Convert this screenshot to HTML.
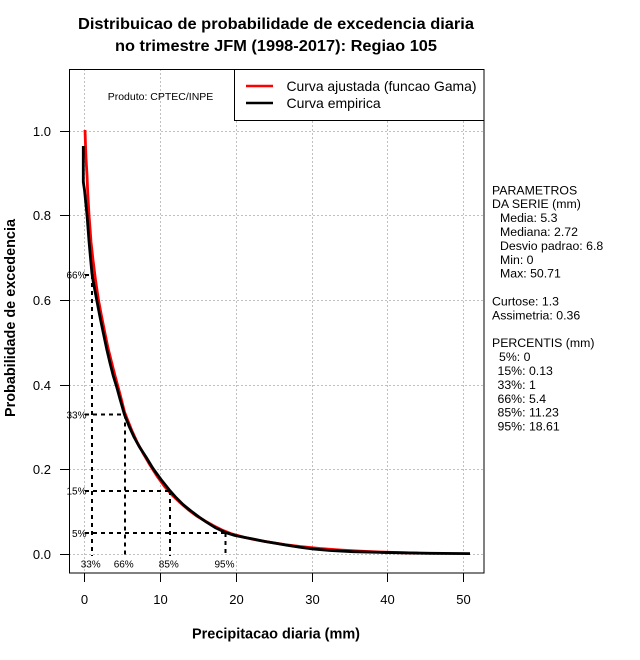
<!DOCTYPE html>
<html><head><meta charset="utf-8"><style>
html,body{margin:0;padding:0;background:#fff;}
svg{display:block;font-family:"Liberation Sans",Arial,sans-serif;}
</style></head><body>
<svg width="640" height="660" viewBox="0 0 640 660" xmlns="http://www.w3.org/2000/svg">
<rect width="640" height="660" fill="#fff"/>
<defs><clipPath id="pc"><rect x="69" y="69" width="415" height="504"/></clipPath></defs>

<!-- title -->
<text x="276" y="29" text-anchor="middle" font-weight="bold" font-size="15.5" textLength="396" lengthAdjust="spacingAndGlyphs">Distribuicao de probabilidade de excedencia diaria</text>
<text x="276" y="51" text-anchor="middle" font-weight="bold" font-size="15.5" textLength="322" lengthAdjust="spacingAndGlyphs">no trimestre JFM (1998-2017): Regiao 105</text>

<!-- grid -->
<g stroke="#c0c0c0" stroke-width="1" stroke-dasharray="2,2" fill="none">
<line x1="84.5" y1="69" x2="84.5" y2="573"/>
<line x1="160.5" y1="69" x2="160.5" y2="573"/>
<line x1="236.5" y1="69" x2="236.5" y2="573"/>
<line x1="312.5" y1="69" x2="312.5" y2="573"/>
<line x1="387.5" y1="69" x2="387.5" y2="573"/>
<line x1="463.5" y1="69" x2="463.5" y2="573"/>
<line x1="69" y1="554.5" x2="484" y2="554.5"/>
<line x1="69" y1="469.5" x2="484" y2="469.5"/>
<line x1="69" y1="385.5" x2="484" y2="385.5"/>
<line x1="69" y1="300.5" x2="484" y2="300.5"/>
<line x1="69" y1="215.5" x2="484" y2="215.5"/>
<line x1="69" y1="131.5" x2="484" y2="131.5"/>
</g>

<g clip-path="url(#pc)">
<!-- red gamma curve -->
<path fill="none" stroke="#ff0000" stroke-width="2.8" stroke-linejoin="round" d="M85,130 L85.5,145 L86,158 L87,175 L87.7,192 L89,215 L90,228 L91,242 L93,260 L95.5,280 L98.3,299 L101.5,316 L104.7,332 L108,348 L111.5,362 L114.8,375 L117.8,386 L121,398 L124.5,412 L128,421 L132,431 L137,442 L143,453 L150,465 L157,476 L165,487 L172,495 L180,502.5 L188,509.5 L196,515.5 L205,521 L214,526 L222,530 L232,534 L245,537.5 L258,540.3 L270,542.3 L285,544.6 L300,546.5 L320,548.5 L340,550 L360,551.2 L380,552 L400,552.7 L418,553.2"/>
<!-- black empirical -->
<path fill="none" stroke="#000" stroke-width="2.8" stroke-linejoin="round" d="M83.3,146 L83.3,182 L84.5,190 L85.5,200 L87,215 L88,228 L89,241 L90.5,258 L91.9,273 L93.3,282 L95,291 L96.7,300 L100,317 L103.3,333 L106.7,349 L110,363 L113.3,376 L116.7,387 L120,399 L124.5,414.7 L129,426 L134,437 L139.3,446.7 L146,457 L153,468.5 L161,479.5 L169.4,490 L176,497.5 L183,504.5 L191,511 L199,517 L207,522.5 L215,527.5 L225.4,532.5 L235,535.5 L245,537.5 L253,539 L265,541.5 L277,543.5 L287,545.2 L300,547.2 L313,549 L330,550.5 L353,551.7 L380,552.4 L403,552.8 L430,553.3 L470,553.6"/>

<!-- percentile dashed lines -->
<g stroke="#000" stroke-width="2" stroke-dasharray="4,4" fill="none">
<line x1="85" y1="275" x2="92" y2="275"/>
<line x1="92" y1="275" x2="92" y2="556"/>
<line x1="85" y1="414.5" x2="125" y2="414.5"/>
<line x1="125" y1="414.5" x2="125" y2="556"/>
<line x1="85" y1="491" x2="170" y2="491"/>
<line x1="170" y1="491" x2="170" y2="556"/>
<line x1="85" y1="533" x2="225.5" y2="533"/>
<line x1="225.5" y1="533" x2="225.5" y2="556"/>
</g>
</g>

<!-- percentile labels -->
<g font-size="10" fill="#000">
<text x="86.5" y="278.5" text-anchor="end">66%</text>
<text x="86.5" y="418.3" text-anchor="end">33%</text>
<text x="86.5" y="494.5" text-anchor="end">15%</text>
<text x="86.5" y="536.8" text-anchor="end">5%</text>
<text x="90.7" y="567.5" text-anchor="middle">33%</text>
<text x="123.7" y="567.5" text-anchor="middle">66%</text>
<text x="168.8" y="567.5" text-anchor="middle">85%</text>
<text x="224.5" y="567.5" text-anchor="middle">95%</text>
</g>

<!-- product text -->
<text x="107.7" y="100" font-size="10.5">Produto: CPTEC/INPE</text>

<!-- legend -->
<rect x="234.5" y="69.5" width="249.5" height="51" fill="#fff" stroke="#000" stroke-width="1"/>
<line x1="246" y1="86" x2="273" y2="86" stroke="#ff0000" stroke-width="2.5"/>
<line x1="246" y1="103" x2="273" y2="103" stroke="#000" stroke-width="2.5"/>
<text x="286.5" y="91" font-size="14" textLength="190" lengthAdjust="spacingAndGlyphs">Curva ajustada (funcao Gama)</text>
<text x="286.5" y="108" font-size="14">Curva empirica</text>

<!-- plot border -->
<rect x="69.5" y="69.5" width="414.5" height="503.5" fill="none" stroke="#000" stroke-width="1"/>

<!-- ticks -->
<g stroke="#000" stroke-width="1">
<line x1="60" y1="554.5" x2="69" y2="554.5"/>
<line x1="60" y1="469.5" x2="69" y2="469.5"/>
<line x1="60" y1="385.5" x2="69" y2="385.5"/>
<line x1="60" y1="300.5" x2="69" y2="300.5"/>
<line x1="60" y1="215.5" x2="69" y2="215.5"/>
<line x1="60" y1="131.5" x2="69" y2="131.5"/>
<line x1="84.5" y1="573" x2="84.5" y2="582"/>
<line x1="160.5" y1="573" x2="160.5" y2="582"/>
<line x1="236.5" y1="573" x2="236.5" y2="582"/>
<line x1="312.5" y1="573" x2="312.5" y2="582"/>
<line x1="387.5" y1="573" x2="387.5" y2="582"/>
<line x1="463.5" y1="573" x2="463.5" y2="582"/>
</g>
<g font-size="13" text-anchor="end">
<text x="51" y="559">0.0</text>
<text x="51" y="474">0.2</text>
<text x="51" y="390">0.4</text>
<text x="51" y="305">0.6</text>
<text x="51" y="220">0.8</text>
<text x="51" y="136">1.0</text>
</g>
<g font-size="13" text-anchor="middle">
<text x="84.5" y="604">0</text>
<text x="160.5" y="604">10</text>
<text x="236.5" y="604">20</text>
<text x="312.5" y="604">30</text>
<text x="387.5" y="604">40</text>
<text x="463.5" y="604">50</text>
</g>

<!-- axis titles -->
<text x="276" y="638.5" text-anchor="middle" font-weight="bold" font-size="14.5" textLength="168" lengthAdjust="spacingAndGlyphs">Precipitacao diaria (mm)</text>
<text transform="translate(15,318) rotate(-90)" text-anchor="middle" font-weight="bold" font-size="14.5" textLength="198" lengthAdjust="spacingAndGlyphs">Probabilidade de excedencia</text>

<!-- right panel -->
<g font-size="12.3" fill="#000">
<text x="492" y="194.3">PARAMETROS</text>
<text x="492" y="208.2">DA SERIE (mm)</text>
<text x="500" y="222.1">Media: 5.3</text>
<text x="500" y="236">Mediana: 2.72</text>
<text x="500" y="249.9">Desvio padrao: 6.8</text>
<text x="500" y="263.8">Min: 0</text>
<text x="500" y="277.7">Max: 50.71</text>
<text x="492" y="305.5">Curtose: 1.3</text>
<text x="492" y="319.4">Assimetria: 0.36</text>
<text x="492" y="347.2">PERCENTIS (mm)</text>
<text x="499" y="361.1">5%: 0</text>
<text x="497.5" y="375">15%: 0.13</text>
<text x="497.5" y="388.9">33%: 1</text>
<text x="497.5" y="402.8">66%: 5.4</text>
<text x="497.5" y="416.7">85%: 11.23</text>
<text x="497.5" y="430.6">95%: 18.61</text>
</g>
</svg>
</body></html>
